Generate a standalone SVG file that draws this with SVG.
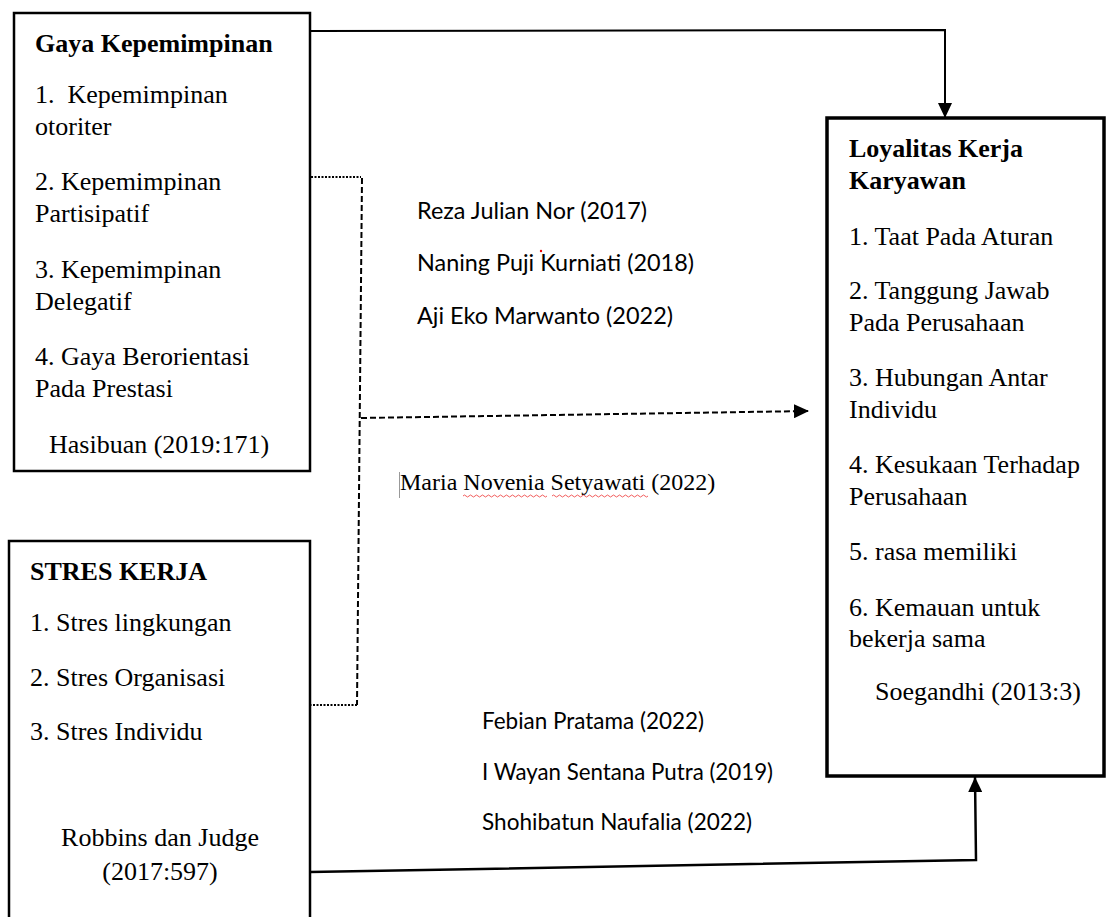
<svg xmlns="http://www.w3.org/2000/svg" width="1107" height="917" viewBox="0 0 1107 917">
<style>
.box{fill:#fff;stroke:#000;stroke-width:2.5}
.t{font-family:"Liberation Serif","Times New Roman",serif;font-size:26px;fill:#000}
.b{font-weight:bold}
.c{font-family:Lato,"Liberation Sans",sans-serif;font-size:23px;fill:#000}
.solid{fill:none;stroke:#000;stroke-width:2}
.dot{fill:none;stroke:#000;stroke-width:2;stroke-dasharray:2 1.5}
.dash{fill:none;stroke:#000;stroke-width:2;stroke-dasharray:6 3}
</style>
<defs>
<marker id="ah" viewBox="0 0 10 10" refX="10" refY="5" markerWidth="15" markerHeight="14" markerUnits="userSpaceOnUse" orient="auto" preserveAspectRatio="none">
<path d="M0,0 L10,5 L0,10 z" fill="#000"/>
</marker>
</defs>
<rect width="1107" height="917" fill="#fff"/>

<g id="connectors">
<path class="solid" d="M309,31 L945,30 L945,118" marker-end="url(#ah)"/>
<path class="dot" d="M311,177 L361,177"/>
<path class="dash" d="M362,178 L357,705"/>
<path class="dot" d="M357,705 L310,705"/>
<path class="dash" d="M361,418 L809,411" marker-end="url(#ah)"/>
<path class="solid" style="stroke-width:2.5" d="M310,872 L976,860 L975,777" marker-end="url(#ah)"/>
</g>

<g id="node-gaya">
<rect class="box" x="14" y="13" width="296" height="458"/>
<text class="t b" x="35" y="52">Gaya Kepemimpinan</text>
<text class="t" x="35" y="103" xml:space="preserve">1.  Kepemimpinan</text>
<text class="t" x="35" y="135">otoriter</text>
<text class="t" x="35" y="190">2. Kepemimpinan</text>
<text class="t" x="35" y="222">Partisipatif</text>
<text class="t" x="35" y="278">3. Kepemimpinan</text>
<text class="t" x="35" y="310">Delegatif</text>
<text class="t" x="35" y="365">4. Gaya Berorientasi</text>
<text class="t" x="35" y="397">Pada Prestasi</text>
<text class="t" x="49" y="453">Hasibuan (2019:171)</text>
</g>

<g id="node-stres">
<rect class="box" x="9" y="541" width="301" height="390"/>
<text class="t b" x="30" y="580">STRES KERJA</text>
<text class="t" x="30" y="631">1. Stres lingkungan</text>
<text class="t" x="30" y="686">2. Stres Organisasi</text>
<text class="t" x="30" y="740">3. Stres Individu</text>
<text class="t" x="160" y="846" text-anchor="middle">Robbins dan Judge</text>
<text class="t" x="160" y="880" text-anchor="middle">(2017:597)</text>
</g>

<g id="node-loyalitas">
<rect class="box" style="stroke-width:3.5" x="827" y="118" width="277" height="658"/>
<text class="t b" x="849" y="157">Loyalitas Kerja</text>
<text class="t b" x="849" y="189">Karyawan</text>
<text class="t" x="849" y="245">1. Taat Pada Aturan</text>
<text class="t" x="849" y="299">2. Tanggung Jawab</text>
<text class="t" x="849" y="331">Pada Perusahaan</text>
<text class="t" x="849" y="386">3. Hubungan Antar</text>
<text class="t" x="849" y="418">Individu</text>
<text class="t" x="849" y="473">4. Kesukaan Terhadap</text>
<text class="t" x="849" y="505">Perusahaan</text>
<text class="t" x="849" y="560">5. rasa memiliki</text>
<text class="t" x="849" y="616">6. Kemauan untuk</text>
<text class="t" x="849" y="647">bekerja sama</text>
<text class="t" x="875" y="700">Soegandhi (2013:3)</text>
</g>

<g id="citations-top">
<text class="c" x="417" y="219" textLength="230" lengthAdjust="spacingAndGlyphs">Reza Julian Nor (2017)</text>
<text class="c" x="417" y="271" textLength="277" lengthAdjust="spacingAndGlyphs">Naning Puji Kurniati (2018)</text>
<text class="c" x="417" y="324" textLength="256" lengthAdjust="spacingAndGlyphs">Aji Eko Marwanto (2022)</text>
<circle cx="541" cy="251" r="1.2" fill="#e00"/>
</g>

<g id="citation-maria">
<line x1="399.5" y1="472" x2="399.5" y2="498" stroke="#999" stroke-width="1"/>
<text class="t" style="font-size:24px" x="400" y="490">Maria Novenia Setyawati (2022)</text>
<path d="M463,496 q1.5,-2 3,0 t3,0 t3,0 t3,0 t3,0 t3,0 t3,0 t3,0 t3,0 t3,0 t3,0 t3,0 t3,0 t3,0 t3,0 t3,0 t3,0 t3,0 t3,0 t3,0 t3,0 t3,0 t3,0 t3,0 t3,0 t3,0 t3,0 t3,0" fill="none" stroke="#e33" stroke-width="0.8"/>
<path d="M552,496 q1.5,-2 3,0 t3,0 t3,0 t3,0 t3,0 t3,0 t3,0 t3,0 t3,0 t3,0 t3,0 t3,0 t3,0 t3,0 t3,0 t3,0 t3,0 t3,0 t3,0 t3,0 t3,0 t3,0 t3,0 t3,0 t3,0 t3,0 t3,0 t3,0 t3,0 t3,0 t3,0 t3,0" fill="none" stroke="#e33" stroke-width="0.8"/>
</g>

<g id="citations-bottom">
<text class="c" x="482" y="729" textLength="222" lengthAdjust="spacingAndGlyphs">Febian Pratama (2022)</text>
<text class="c" x="482" y="780" textLength="291" lengthAdjust="spacingAndGlyphs">I Wayan Sentana Putra (2019)</text>
<text class="c" x="482" y="830" textLength="270" lengthAdjust="spacingAndGlyphs">Shohibatun Naufalia (2022)</text>
<circle cx="629" cy="820" r="1.2" fill="#e00"/>
</g>
</svg>
